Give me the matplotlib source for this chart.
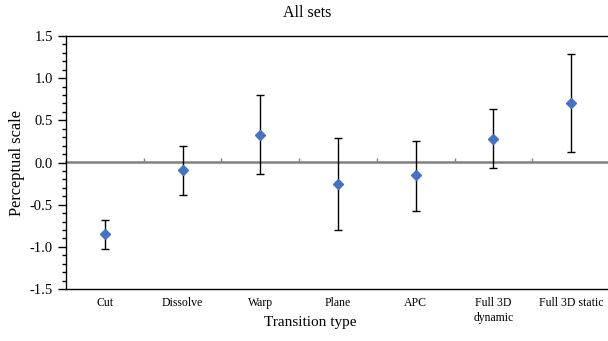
import numpy as np
from matplotlib import pyplot as plt

categories = ["Cut", "Dissolve", "Warp", "Plane", "APC", "Full 3D\ndynamic", "Full 3D static"]
means = [-0.85, -0.09, 0.33, -0.26, -0.15, 0.28, 0.71]
upper = [-0.68, 0.20, 0.80, 0.29, 0.26, 0.63, 1.29]
lower = [-1.03, -0.39, -0.14, -0.80, -0.57, -0.07, 0.13]

plt.rcParams['font.family'] = ['Liberation Serif', 'DejaVu Serif']

W, H = 608, 341
fig = plt.figure(figsize=(W / 100, H / 100), dpi=100)
ax = fig.add_axes([66 / W, (H - 289) / H, (610 - 66) / W, (289 - 36) / H])

x = np.arange(1, len(categories) + 1)
means = np.array(means)
yerr = [means - np.array(lower), np.array(upper) - means]
ax.errorbar(x, means, yerr=yerr, fmt='D', color='#4472C4', ms=5,
            ecolor='black', elinewidth=1, capsize=3, capthick=1, zorder=3)

ax.set_xlim(0.5, len(categories) + 0.5)
ax.set_ylim(-1.5, 1.5)
ax.set_yticks(np.arange(-1.5, 1.51, 0.5))
ax.set_yticks(np.arange(-1.5, 1.51, 0.1), minor=True)
ax.set_yticklabels([f"{v:.1f}" for v in np.arange(-1.5, 1.51, 0.5)], fontsize=10.5)
ax.tick_params(axis='y', which='major', length=6, width=1, direction='out')
ax.tick_params(axis='y', which='minor', length=3, width=1, direction='out')

ax.set_xticks(x)
ax.set_xticklabels(categories, fontsize=8.5, linespacing=1.3, va='top')
ax.tick_params(axis='x', length=0, pad=6)

for s in ['top', 'bottom', 'left']:
    ax.spines[s].set_color('black')
    ax.spines[s].set_linewidth(1)
ax.spines['right'].set_visible(False)

# gray zero axis with boundary ticks
sec = ax.secondary_xaxis(0.5)
sec.set_xticks(np.arange(1.5, len(categories) + 0.5, 1))
sec.set_xticklabels([])
sec.tick_params(length=3, width=1, color='#808080', direction='out')
for s in sec.spines.values():
    s.set_color('#808080')
    s.set_linewidth(1.8)

ax.set_xlabel("Transition type", fontsize=11)
ax.xaxis.set_label_coords((310 - 66) / (610 - 66), -0.107, transform=ax.transAxes)
ax.xaxis.label.set_va('top')
ax.set_ylabel("Perceptual scale", fontsize=11.8, labelpad=3)
fig.text(307 / W, 1 - 13 / H, "All sets", ha='center', va='center', fontsize=11.5)

fig.savefig("out.png", dpi=100)
